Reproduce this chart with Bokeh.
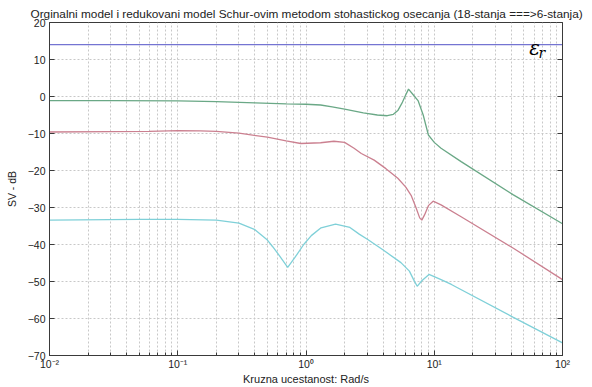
from bokeh.plotting import figure
from bokeh.models import LinearAxis, FixedTicker, Label, Range1d
from bokeh.embed import file_html
from bokeh.resources import INLINE

TITLE = "Orginalni model i redukovani model Schur-ovim metodom stohastickog osecanja (18-stanja ===>6-stanja)"
X_LABEL = "Kruzna ucestanost: Rad/s"
Y_LABEL = "SV - dB"

x_ticks = [0.01, 0.1, 1, 10, 100]
x_tick_labels = ["10\u207b\u00b2", "10\u207b\u00b9", "10\u2070", "10\u00b9", "10\u00b2"]
y_ticks = [-70, -60, -50, -40, -30, -20, -10, 0, 10, 20]

# epsilon_r level
eps_freq = [0.01, 100]
eps_level = [14, 14]

freq_green = [0.01, 0.03, 0.1, 0.2, 0.4, 0.7, 1.0, 1.3, 1.6, 2.0, 2.8, 3.6, 4.3, 4.8, 5.2,
              5.6, 5.95, 6.3, 6.8, 7.5, 8.2, 9.0, 10.0, 11.3, 16.2, 41.4, 100]
sv_green = [-1.1, -1.1, -1.2, -1.4, -1.7, -2.0, -2.1, -2.3, -2.8, -3.4, -4.4, -5.0, -5.2, -4.8, -3.8,
            -1.8, 0.2, 2.0, 0.6, -1.2, -5.0, -10.4, -12.4, -14.0, -17.6, -26.6, -34.4]

freq_red = [0.01, 0.03, 0.06, 0.1, 0.15, 0.2, 0.3, 0.5, 0.7, 0.91, 1.3, 1.65, 2.0, 2.37, 2.7,
            3.4, 4.2, 5.2, 6.0, 6.6, 7.2, 7.7, 8.0, 8.4, 9.0, 9.8, 11.3, 16.2, 41.4, 100]
sv_red = [-9.6, -9.5, -9.4, -9.2, -9.3, -9.4, -9.9, -11.0, -12.0, -12.7, -12.5, -12.1, -12.4, -14.0, -15.4,
          -17.2, -19.5, -22.1, -24.5, -26.7, -30.0, -32.8, -33.4, -32.0, -29.5, -28.3, -29.3, -32.5, -41.0, -49.5]

freq_cyan = [0.01, 0.05, 0.1, 0.2, 0.3, 0.4, 0.5, 0.55, 0.62, 0.72, 0.82, 0.96, 1.1, 1.31, 1.7,
             2.2, 2.6, 3.05, 4.0, 5.5, 6.4, 6.9, 7.36, 8.0, 9.1, 11.3, 13.6, 41.4, 100]
sv_cyan = [-33.4, -33.2, -33.2, -33.4, -34.2, -36.0, -38.8, -40.6, -43.0, -46.2, -43.5, -40.0, -37.6, -35.5, -34.5,
           -35.4, -37.2, -38.7, -41.5, -44.9, -47.2, -49.5, -51.3, -49.8, -48.1, -49.5, -50.8, -59.7, -66.6]

FONT = "Liberation Sans"
AX = "#3a3a3a"
GRID = "#c8c8c8"

p = figure(width=592, height=387, x_axis_type="log",
           x_range=Range1d(x_ticks[0], x_ticks[-1]), y_range=Range1d(y_ticks[0], y_ticks[-1]),
           output_backend="svg", toolbar_location=None,
           min_border_left=49, min_border_right=30, min_border_top=22, min_border_bottom=28,
           title=TITLE)
p.background_fill_color = "white"
p.border_fill_color = "white"
p.outline_line_color = AX
p.title.text_font = FONT
p.title.text_font_size = "11.8px"
p.title.text_font_style = "normal"
p.title.text_color = "#222222"
p.title.align = "left"
p.title.offset = -19
p.title.standoff = 4

minor = [m * 10.0 ** e for e in range(-2, 2) for m in range(2, 10)]
p.xaxis.ticker = FixedTicker(ticks=x_ticks, minor_ticks=minor)
p.xaxis.major_label_overrides = dict(zip(x_ticks, x_tick_labels))
p.yaxis.ticker = FixedTicker(ticks=y_ticks)

for ax in (p.xaxis, p.yaxis):
    ax.axis_line_color = AX
    ax.major_tick_line_color = AX
    ax.minor_tick_line_color = AX
    ax.major_tick_in = 5
    ax.major_tick_out = 0
    ax.minor_tick_in = 3
    ax.minor_tick_out = 0
    ax.major_label_text_font = FONT
    ax.major_label_text_font_size = "10.5px"
    ax.major_label_text_color = "#222222"
    ax.axis_label_text_font = FONT
    ax.axis_label_text_font_style = "normal"
    ax.axis_label_text_color = "#222222"
p.yaxis.minor_tick_line_color = None
p.xaxis.axis_label = X_LABEL
p.yaxis.axis_label = Y_LABEL
p.xaxis.axis_label_text_font_size = "11px"
p.yaxis.axis_label_text_font_size = "10.5px"
p.xaxis.axis_label_standoff = 0
p.xaxis.major_label_standoff = 2
p.yaxis.axis_label_standoff = 7
p.yaxis.major_label_standoff = 4

right = LinearAxis(ticker=FixedTicker(ticks=y_ticks),
                   major_label_overrides={t: "" for t in y_ticks}, major_label_standoff=0,
                   axis_line_color=AX, major_tick_line_color=AX, major_tick_in=5, major_tick_out=0,
                   minor_tick_line_color=None)
p.add_layout(right, "right")

p.xgrid.grid_line_color = GRID
p.xgrid.grid_line_dash = "2 2"
p.xgrid.minor_grid_line_color = GRID
p.xgrid.minor_grid_line_dash = "2 2"
p.ygrid.grid_line_color = GRID
p.ygrid.grid_line_dash = "2 2"

p.line(eps_freq, eps_level, line_color="#7474d2", line_width=1.2)
p.line(freq_green, sv_green, line_color="#6aa886", line_width=1.3)
p.line(freq_red, sv_red, line_color="#cb8090", line_width=1.3)
p.line(freq_cyan, sv_cyan, line_color="#7fd0d8", line_width=1.3)

p.add_layout(Label(x=55, y=13.0, text="\u03b5", text_font="DejaVu Serif", text_font_style="italic",
                   text_font_size="20px", text_color="black", text_baseline="alphabetic"))
p.add_layout(Label(x=65, y=11.8, text="r", text_font="DejaVu Serif", text_font_style="italic",
                   text_font_size="14px", text_color="black", text_baseline="alphabetic"))

open("out.html", "w").write(file_html(p, INLINE))
